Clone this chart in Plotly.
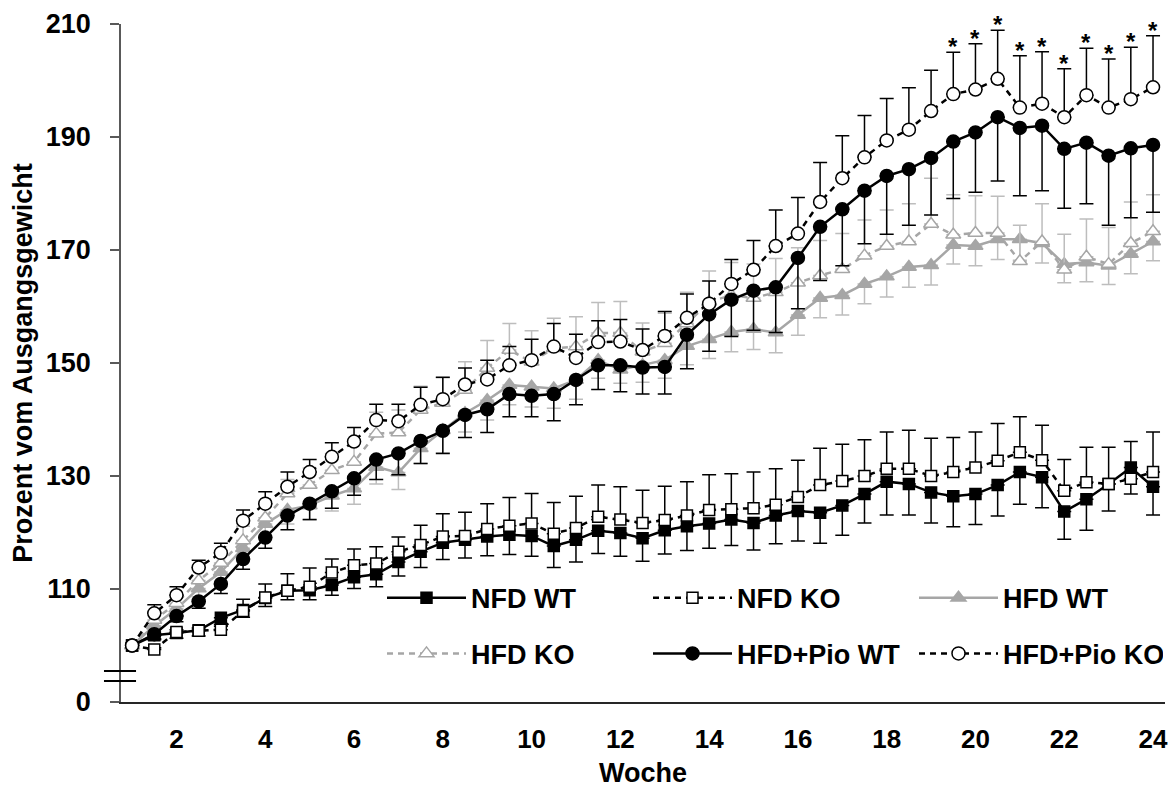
import plotly.graph_objects as go

weeks = [1, 1.5, 2, 2.5, 3, 3.5, 4, 4.5, 5, 5.5, 6, 6.5, 7, 7.5, 8, 8.5, 9, 9.5, 10, 10.5,
         11, 11.5, 12, 12.5, 13, 13.5, 14, 14.5, 15, 15.5, 16, 16.5, 17, 17.5, 18, 18.5,
         19, 19.5, 20, 20.5, 21, 21.5, 22, 22.5, 23, 23.5, 24]

nfd_wt = [100, 101.8, 102.2, 102.7, 104.9, 106.3, 108.4, 109.7, 109.8, 110.7, 112.1, 112.6,
          114.8, 116.6, 118.2, 118.7, 119.3, 119.6, 119.4, 117.6, 118.7, 120.3, 119.9, 119.0,
          120.4, 121.1, 121.6, 122.3, 121.7, 123.0, 123.8, 123.5, 124.8, 126.8, 129.0, 128.6,
          127.1, 126.4, 126.8, 128.4, 130.7, 129.8, 123.7, 125.9, 128.6, 131.5, 128.1]
nfd_wt_err = [0, 0.8, 0.9, 1.0, 1.2, 1.3, 1.5, 1.6, 1.7, 1.8, 2.0, 2.2, 2.5, 2.8, 3.0, 3.2,
              3.4, 3.5, 3.6, 3.8, 3.9, 4.0, 4.1, 4.1, 4.2, 4.3, 4.4, 4.6, 4.8, 5.0, 5.3, 5.4,
              5.3, 5.1, 5.9, 5.5, 5.4, 5.4, 5.4, 5.5, 5.7, 5.4, 4.9, 5.5, 4.8, 4.7, 5.0]

nfd_ko = [100, 99.3, 102.4, 102.6, 102.8, 106.1, 108.5, 109.7, 110.4, 112.9, 114.2, 114.5,
          116.6, 117.8, 119.3, 119.4, 120.6, 121.2, 121.6, 119.8, 120.8, 122.8, 122.3, 121.7,
          122.2, 123.0, 124.0, 124.1, 124.3, 124.9, 126.3, 128.4, 129.1, 130.0, 131.3, 131.3,
          130.0, 130.7, 131.5, 132.7, 134.2, 132.8, 127.4, 128.9, 128.6, 129.5, 130.7]
nfd_ko_err = [0, 0.3, 0.4, 0.5, 0.6, 2.1, 2.4, 3.0, 3.3, 2.4, 2.9, 3.0, 2.6, 3.5, 4.0, 4.2,
              4.5, 5.0, 5.3, 5.5, 5.6, 5.6, 5.8, 5.8, 6.0, 6.0, 6.2, 6.3, 6.4, 6.4, 6.5, 6.5,
              6.5, 6.4, 6.5, 6.8, 6.7, 6.1, 6.3, 6.6, 6.3, 6.2, 5.5, 6.2, 6.5, 6.6, 7.1]

hfd_wt = [100, 103.5, 106.5, 110.1, 113.0, 117.2, 121.5, 124.0, 124.8, 126.5, 127.8, 131.6,
          130.6, 134.9, 138.1, 141.1, 143.4, 146.1, 145.8, 145.5, 147.0, 150.5, 148.8, 149.6,
          150.5, 153.0, 154.2, 155.5, 156.0, 155.4, 158.5, 161.5, 162.0, 164.0, 165.3, 167.0,
          167.3, 170.9, 170.7, 171.9, 171.9, 171.2, 167.5, 167.8, 167.2, 169.3, 171.5]
hfd_wt_err = [0, 1.0, 1.2, 1.5, 1.8, 2.0, 2.2, 2.5, 2.6, 2.7, 2.8, 3.0, 3.0, 2.7, 4.0, 3.3,
              3.5, 3.5, 3.6, 3.5, 3.4, 3.2, 2.4, 3.0, 3.2, 3.3, 3.4, 3.5, 3.6, 3.6, 3.6, 3.5,
              3.5, 3.5, 3.6, 3.6, 3.5, 3.4, 3.5, 3.6, 3.7, 3.5, 3.3, 3.4, 3.3, 3.5, 3.4]

hfd_ko = [100, 104.5, 107.5, 111.5, 114.6, 118.6, 122.6, 126.9, 128.4, 131.0, 132.5, 137.5,
          137.7, 141.7, 142.9, 145.2, 149.1, 152.3, 150.2, 152.6, 152.9, 155.3, 155.3, 152.0,
          153.5, 157.0, 160.8, 162.0, 161.5, 162.5, 164.2, 165.5, 166.6, 169.0, 170.7, 171.5,
          174.6, 172.7, 173.0, 173.0, 168.0, 171.5, 166.5, 168.8, 167.5, 171.2, 173.3]
hfd_ko_err = [0, 1.2, 1.5, 2.0, 2.2, 2.5, 2.5, 2.5, 3.0, 3.0, 3.5, 3.8, 4.0, 4.2, 4.5, 5.0,
              4.9, 4.7, 5.5, 5.3, 5.3, 5.4, 5.6, 5.1, 5.3, 5.5, 5.5, 5.8, 6.0, 6.0, 6.2, 6.2,
              6.3, 6.3, 6.4, 6.7, 8.1, 7.1, 6.6, 6.5, 6.4, 6.7, 6.3, 6.7, 6.5, 7.3, 6.5]

pio_wt = [100, 102.0, 105.2, 107.8, 110.9, 115.3, 119.1, 123.0, 125.1, 127.3, 129.6, 132.9,
          134.0, 136.2, 138.0, 140.8, 141.8, 144.5, 144.2, 144.5, 147.0, 149.6, 149.6, 149.2,
          149.3, 155.0, 158.6, 161.2, 162.8, 163.4, 168.6, 174.1, 177.2, 180.5, 183.1, 184.3,
          186.3, 189.2, 190.8, 193.5, 191.6, 192.0, 187.9, 189.0, 186.7, 188.0, 188.6]
pio_wt_err = [0, 0.8, 1.0, 1.2, 1.7, 1.8, 1.9, 2.5, 2.8, 3.0, 3.0, 3.5, 3.8, 4.0, 4.0, 4.0,
              4.1, 4.0, 3.7, 4.7, 4.4, 4.3, 4.7, 4.7, 4.8, 6.0, 6.5, 6.5, 7.0, 8.0, 9.0, 9.5,
              10.0, 9.4, 10.3, 9.9, 10.1, 10.1, 10.6, 11.3, 12.0, 11.5, 10.5, 10.8, 12.3, 12.3, 11.9]

pio_ko = [100, 105.7, 108.9, 113.8, 116.4, 122.1, 125.1, 128.1, 130.7, 133.4, 136.1, 139.9,
          139.7, 142.6, 143.6, 146.2, 147.1, 149.6, 150.5, 152.9, 150.9, 153.7, 153.8, 152.3,
          154.8, 158.0, 160.5, 164.0, 166.5, 170.7, 172.9, 178.5, 182.7, 186.4, 189.4, 191.3,
          194.6, 197.6, 198.4, 200.3, 195.2, 195.9, 193.5, 197.4, 195.2, 196.7, 198.8]
pio_ko_err = [0, 1.5, 1.5, 1.3, 1.7, 1.9, 2.1, 2.6, 2.2, 2.5, 2.5, 2.8, 3.0, 3.1, 3.9, 2.9,
              3.4, 3.3, 3.7, 4.1, 4.2, 3.8, 3.9, 3.7, 4.3, 4.2, 4.0, 4.3, 5.2, 6.4, 6.4, 7.0,
              7.5, 7.4, 7.4, 7.4, 7.2, 7.4, 8.1, 8.6, 9.2, 9.2, 8.6, 8.3, 8.6, 9.2, 9.1]

star_weeks = [19.5, 20, 20.5, 21, 21.5, 22, 22.5, 23, 23.5, 24]

y_tickvals = [90, 110, 130, 150, 170, 190, 210]
y_ticktext = ["0", "110", "130", "150", "170", "190", "210"]
x_tickvals = [2, 4, 6, 8, 10, 12, 14, 16, 18, 20, 22, 24]

BLACK = "#000000"
GRAY = "#a6a6a6"
GRAY_ERR = "#bdbdbd"
FONT = "Liberation Sans"

series = [
    dict(name="NFD WT", y=nfd_wt, err=nfd_wt_err, up=False, color=BLACK, ecolor=BLACK,
         dash="solid", symbol="square", fill=BLACK, size=11, legend="legend", lw=172),
    dict(name="NFD KO", y=nfd_ko, err=nfd_ko_err, up=True, color=BLACK, ecolor=BLACK,
         dash="6px,5px", symbol="square", fill="white", size=11, legend="legend", lw=172),
    dict(name="HFD WT", y=hfd_wt, err=hfd_wt_err, up=False, color=GRAY, ecolor=GRAY_ERR,
         dash="solid", symbol="triangle-up", fill=GRAY, size=13, legend="legend", lw=155),
    dict(name="HFD KO", y=hfd_ko, err=hfd_ko_err, up=True, color=GRAY, ecolor=GRAY_ERR,
         dash="6px,5px", symbol="triangle-up", fill="white", size=13, legend="legend2", lw=172),
    dict(name="HFD+Pio WT", y=pio_wt, err=pio_wt_err, up=False, color=BLACK, ecolor=BLACK,
         dash="solid", symbol="circle", fill=BLACK, size=13, legend="legend2", lw=172),
    dict(name="HFD+Pio KO", y=pio_ko, err=pio_ko_err, up=True, color=BLACK, ecolor=BLACK,
         dash="6px,5px", symbol="circle", fill="white", size=13, legend="legend2", lw=155),
]

fig = go.Figure()
for s in series:
    zeros = [0] * len(s["err"])
    err = dict(type="data", symmetric=False,
               array=s["err"] if s["up"] else zeros,
               arrayminus=zeros if s["up"] else s["err"],
               color=s["ecolor"], thickness=1.5, width=7)
    fig.add_trace(go.Scatter(
        x=weeks, y=s["y"], name=s["name"], mode="lines+markers",
        line=dict(color=s["color"], width=2.5, dash=s["dash"]),
        marker=dict(symbol=s["symbol"], size=s["size"], color=s["fill"],
                    line=dict(color=s["color"], width=1.5)),
        error_y=err, legend=s["legend"], legendwidth=s["lw"], cliponaxis=False,
    ))

# significance stars above the HFD+Pio KO error bars
for w in star_weeks:
    i = weeks.index(w)
    fig.add_annotation(x=w, y=pio_ko[i] + pio_ko_err[i], text="*", showarrow=False,
                       yanchor="bottom", xanchor="center", yshift=-10,
                       font=dict(family=FONT, size=24, color="black", weight="bold"))

# axis break marks
for yp in [0.0457, 0.031]:
    fig.add_shape(type="line", xref="paper", yref="paper", x0=-0.0163, x1=0.0144,
                  y0=yp, y1=yp, line=dict(color="black", width=2))

legend_common = dict(orientation="h", xanchor="left", yanchor="middle",
                     font=dict(family=FONT, size=27, color="black", weight="bold"),
                     bgcolor="rgba(0,0,0,0)", borderwidth=0, itemwidth=79,
                     entrywidthmode="pixels", traceorder="normal")

# the page body adds an 8px offset, so the figure is 8px smaller on each axis
fig.update_layout(
    width=1168, height=781,
    margin=dict(l=113, r=11, t=16, b=87),
    paper_bgcolor="white", plot_bgcolor="white",
    showlegend=True,
    legend=dict(x=(382 - 121) / 1044, y=0.153, **legend_common),
    legend2=dict(x=(382 - 121) / 1044, y=0.071, **legend_common),
    xaxis=dict(range=[0.75, 24.27], tickvals=x_tickvals, ticks="", showgrid=False,
               zeroline=False, showline=True, linecolor="#262626", linewidth=1.5,
               automargin=False,
               tickfont=dict(family=FONT, size=26, color="black", weight="bold"),
               ticklabelstandoff=13,
               title=dict(text="Woche", standoff=10,
                          font=dict(family=FONT, size=27, color="black", weight="bold"))),
    yaxis=dict(range=[90, 210], tickvals=y_tickvals, ticktext=y_ticktext, ticks="outside",
               ticklen=9, tickwidth=1.5, tickcolor="#595959", showgrid=False, zeroline=False,
               showline=True, linecolor="#595959", linewidth=1.5, automargin=False,
               tickfont=dict(family=FONT, size=27, color="black", weight="bold"),
               ticklabelstandoff=14,
               title=dict(text="Prozent vom Ausgangsgewicht", standoff=8,
                          font=dict(family=FONT, size=27, color="black", weight="bold"))),
)

fig.write_html("out.html")
